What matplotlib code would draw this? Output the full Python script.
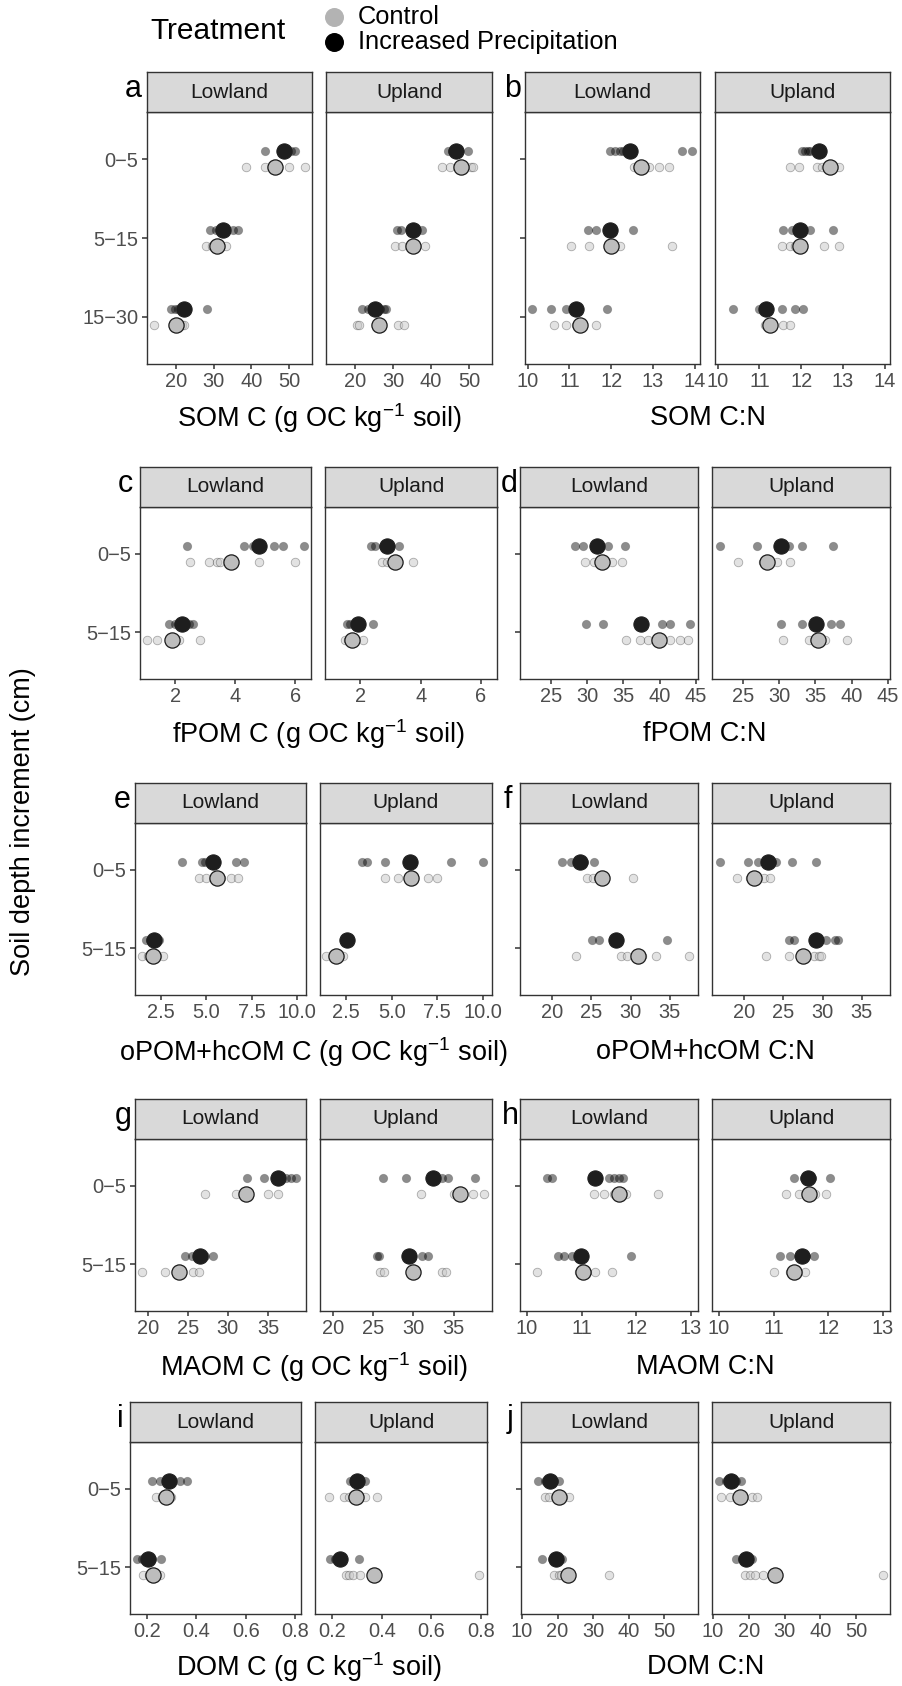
import matplotlib

matplotlib.use("Agg")
import matplotlib.pyplot as plt

plt.rcParams["font.family"] = ["Liberation Sans", "DejaVu Sans"]
plt.rcParams["mathtext.default"] = "regular"

W, H = 902, 1686

depths3 = ["0\u22125", "5\u221215", "15\u221230"]
depths2 = ["0\u22125", "5\u221215"]
sites = ["Lowland", "Upland"]

# --- replicate values (one list per depth) and treatment means -----------
# a: SOM C
som_c_low_ip = [[43.7, 47.8, 48.5, 49.5, 50.5, 51.5], [29.0, 30.5, 31.5, 33.0, 35.0, 36.5], [18.8, 19.8, 20.5, 22.0, 23.0, 28.2]]
som_c_low_ip_mean = [48.7, 32.6, 22.1]
som_c_low_ctl = [[38.6, 43.7, 45.5, 47.0, 49.9, 54.3], [27.9, 29.5, 30.5, 31.5, 33.3], [14.1, 19.5, 20.0, 21.0, 21.5, 22.0]]
som_c_low_ctl_mean = [46.3, 30.8, 19.9]
som_c_up_ip = [[44.6, 45.5, 46.0, 47.0, 49.8], [31.0, 32.0, 34.5, 36.0, 37.5], [21.8, 23.5, 25.0, 26.5, 27.5, 28.2]]
som_c_up_ip_mean = [46.6, 35.3, 25.1]
som_c_up_ctl = [[42.8, 45.0, 47.5, 48.5, 50.5, 51.2], [30.5, 32.3, 35.0, 36.0, 38.4], [20.6, 21.0, 25.5, 26.5, 31.3, 33.0]]
som_c_up_ctl_mean = [47.9, 35.3, 26.4]

# b: SOM C:N
som_cn_low_ip = [[11.96, 12.08, 12.2, 12.28, 13.69, 13.94], [11.44, 11.64, 11.9, 12.05, 12.52], [10.11, 10.57, 10.93, 11.1, 11.91]]
som_cn_low_ip_mean = [12.44, 11.98, 11.15]
som_cn_low_ctl = [[12.55, 12.75, 12.91, 13.13, 13.37], [11.05, 11.47, 11.95, 12.21, 13.44], [10.63, 10.91, 11.15, 11.27, 11.63]]
som_cn_low_ctl_mean = [12.70, 12.00, 11.25]
som_cn_up_ip = [[12.01, 12.09, 12.15, 12.21, 12.45, 12.5], [11.57, 11.77, 11.9, 12.0, 12.21, 12.77], [10.38, 11.0, 11.53, 11.85, 12.04]]
som_cn_up_ip_mean = [12.43, 11.96, 11.16]
som_cn_up_ctl = [[11.73, 11.95, 12.37, 12.49, 12.75, 12.89], [11.53, 11.73, 11.85, 12.0, 12.54, 12.91], [11.14, 11.2, 11.57, 11.73]]
som_cn_up_ctl_mean = [12.69, 11.97, 11.26]

# c: fPOM C
fpom_c_low_ip = [[2.39, 4.31, 4.6, 5.28, 5.61, 6.28], [1.81, 2.0, 2.1, 2.45, 2.61]]
fpom_c_low_ip_mean = [4.78, 2.22]
fpom_c_low_ctl = [[2.48, 3.14, 3.39, 3.5, 4.78, 6.01], [1.07, 1.40, 1.85, 2.0, 2.14, 2.83]]
fpom_c_low_ctl_mean = [3.87, 1.91]
fpom_c_up_ip = [[2.37, 2.48, 2.75, 2.95, 3.29], [1.55, 1.66, 1.85, 2.0, 2.43]]
fpom_c_up_ip_mean = [2.87, 1.93]
fpom_c_up_ctl = [[2.73, 2.89, 3.1, 3.25, 3.75], [1.49, 1.6, 1.75, 2.10]]
fpom_c_up_ctl_mean = [3.15, 1.71]

# d: fPOM C:N
fpom_cn_low_ip = [[28.3, 29.5, 31.0, 31.8, 32.9, 35.2], [29.8, 32.2, 37.3, 40.3, 41.5, 44.2]]
fpom_cn_low_ip_mean = [31.3, 37.5]
fpom_cn_low_ctl = [[29.7, 30.9, 31.8, 32.5, 33.5, 34.8], [35.3, 37.3, 38.4, 39.5, 41.5, 42.8, 43.9]]
fpom_cn_low_ctl_mean = [32.1, 39.9]
fpom_cn_up_ip = [[21.9, 27.0, 30.5, 31.3, 33.2, 37.5], [30.3, 33.2, 35.0, 35.5, 37.2, 38.4]]
fpom_cn_up_ip_mean = [30.2, 35.1]
fpom_cn_up_ctl = [[24.3, 27.8, 28.5, 29.7, 31.5], [30.6, 34.1, 35.0, 36.3, 39.4]]
fpom_cn_up_ctl_mean = [28.3, 35.3]

# e: oPOM+hcOM C
ohc_c_low_ip = [[3.64, 4.75, 4.93, 5.2, 6.65, 7.09], [1.65, 1.9, 2.1, 2.3, 2.4]]
ohc_c_low_ip_mean = [5.39, 2.11]
ohc_c_low_ctl = [[4.6, 4.99, 5.4, 5.8, 6.37, 6.77], [1.43, 1.8, 2.0, 2.3, 2.59]]
ohc_c_low_ctl_mean = [5.58, 2.08]
ohc_c_up_ip = [[3.37, 3.65, 4.65, 6.0, 8.26, 9.99], [2.4, 2.5, 2.6, 2.65]]
ohc_c_up_ip_mean = [6.0, 2.55]
ohc_c_up_ctl = [[4.63, 5.32, 5.9, 6.2, 6.99, 7.5], [1.41, 1.8, 2.0, 2.32]]
ohc_c_up_ctl_mean = [6.05, 1.95]

# f: oPOM+hcOM C:N
ohc_cn_low_ip = [[21.3, 22.4, 23.2, 24.0, 25.3], [25.1, 26.0, 28.5, 34.7]]
ohc_cn_low_ip_mean = [23.6, 28.1]
ohc_cn_low_ctl = [[24.4, 25.2, 25.8, 26.0, 30.3], [23.1, 28.8, 29.6, 31.5, 33.2, 37.5]]
ohc_cn_low_ctl_mean = [26.3, 30.9]
ohc_cn_up_ip = [[16.9, 20.5, 21.8, 23.5, 24.0, 26.1, 29.2], [25.7, 26.4, 29.0, 30.4, 31.6, 32.0]]
ohc_cn_up_ip_mean = [23.1, 29.2]
ohc_cn_up_ctl = [[19.1, 20.8, 21.5, 22.5, 23.3], [22.8, 25.7, 27.3, 28.9, 29.5, 29.8]]
ohc_cn_up_ctl_mean = [21.2, 27.5]

# g: MAOM C
maom_c_low_ip = [[32.4, 34.5, 36.0, 37.3, 37.9, 38.5], [24.7, 25.5, 26.3, 27.2, 28.1]]
maom_c_low_ip_mean = [36.2, 26.5]
maom_c_low_ctl = [[27.1, 31.0, 32.0, 32.5, 35.0, 36.2], [19.3, 22.2, 23.5, 25.7, 26.4]]
maom_c_low_ctl_mean = [32.3, 23.9]
maom_c_up_ip = [[26.2, 29.1, 33.5, 34.3, 37.7], [25.5, 25.7, 29.5, 31.0, 31.8]]
maom_c_up_ip_mean = [32.4, 29.4]
maom_c_up_ctl = [[30.9, 35.0, 36.0, 37.4, 38.8], [25.9, 26.3, 30.0, 33.6, 34.0]]
maom_c_up_ctl_mean = [35.8, 30.0]

# h: MAOM C:N
maom_cn_low_ip = [[10.37, 10.46, 11.5, 11.59, 11.69, 11.76], [10.56, 10.67, 10.83, 10.98, 11.90]]
maom_cn_low_ip_mean = [11.24, 10.98]
maom_cn_low_ctl = [[11.23, 11.40, 11.59, 11.69, 11.82, 12.40], [10.19, 10.95, 11.1, 11.25, 11.55]]
maom_cn_low_ctl_mean = [11.69, 11.03]
maom_cn_up_ip = [[11.38, 11.55, 11.65, 11.7, 12.03], [11.12, 11.30, 11.5, 11.6, 11.73]]
maom_cn_up_ip_mean = [11.63, 11.52]
maom_cn_up_ctl = [[11.23, 11.47, 11.64, 11.75, 11.95], [11.00, 11.3, 11.45, 11.58]]
maom_cn_up_ctl_mean = [11.64, 11.37]

# i: DOM C
dom_c_low_ip = [[0.219, 0.252, 0.28, 0.30, 0.333, 0.360], [0.158, 0.178, 0.20, 0.22, 0.255]]
dom_c_low_ip_mean = [0.289, 0.205]
dom_c_low_ctl = [[0.235, 0.26, 0.28, 0.296], [0.185, 0.21, 0.23, 0.252]]
dom_c_low_ctl_mean = [0.275, 0.223]
dom_c_up_ip = [[0.273, 0.29, 0.31, 0.333], [0.193, 0.21, 0.24, 0.307]]
dom_c_up_ip_mean = [0.300, 0.233]
dom_c_up_ctl = [[0.187, 0.247, 0.267, 0.30, 0.333, 0.38], [0.256, 0.27, 0.284, 0.313, 0.79]]
dom_c_up_ctl_mean = [0.297, 0.367]

# j: DOM C:N
dom_cn_low_ip = [[14.4, 16.5, 18.0, 19.0, 20.3], [15.6, 18.5, 19.5, 20.5, 21.2]]
dom_cn_low_ip_mean = [17.9, 19.5]
dom_cn_low_ctl = [[16.5, 17.5, 20.0, 21.5, 23.1], [18.9, 20.3, 21.0, 22.5, 34.5]]
dom_cn_low_ctl_mean = [20.5, 23.0]
dom_cn_up_ip = [[11.7, 13.5, 15.0, 16.5, 17.8], [16.3, 18.0, 19.5, 20.8]]
dom_cn_up_ip_mean = [15.1, 19.1]
dom_cn_up_ctl = [[12.1, 14.7, 17.0, 21.0, 22.2], [18.9, 20.3, 21.7, 24.0, 57.5]]
dom_cn_up_ctl_mean = [17.5, 27.3]

# --- panel definitions ------------------------------------------------------
# (letter, row, col, depth labels, {site: (ip, ip_mean, ctl, ctl_mean)}, xlim, xticks, ticklabels, xlabel)
PANELS = [
    ("a", 0, 0, depths3,
     {"Lowland": (som_c_low_ip, som_c_low_ip_mean, som_c_low_ctl, som_c_low_ctl_mean),
      "Upland": (som_c_up_ip, som_c_up_ip_mean, som_c_up_ctl, som_c_up_ctl_mean)},
     (12.3, 56.1), [20, 30, 40, 50], None, "SOM C (g OC kg$^{-1}$ soil)"),
    ("b", 0, 1, depths3,
     {"Lowland": (som_cn_low_ip, som_cn_low_ip_mean, som_cn_low_ctl, som_cn_low_ctl_mean),
      "Upland": (som_cn_up_ip, som_cn_up_ip_mean, som_cn_up_ctl, som_cn_up_ctl_mean)},
     (9.94, 14.12), [10, 11, 12, 13, 14], None, "SOM C:N"),
    ("c", 1, 0, depths2,
     {"Lowland": (fpom_c_low_ip, fpom_c_low_ip_mean, fpom_c_low_ctl, fpom_c_low_ctl_mean),
      "Upland": (fpom_c_up_ip, fpom_c_up_ip_mean, fpom_c_up_ctl, fpom_c_up_ctl_mean)},
     (0.83, 6.53), [2, 4, 6], None, "fPOM C (g OC kg$^{-1}$ soil)"),
    ("d", 1, 1, depths2,
     {"Lowland": (fpom_cn_low_ip, fpom_cn_low_ip_mean, fpom_cn_low_ctl, fpom_cn_low_ctl_mean),
      "Upland": (fpom_cn_up_ip, fpom_cn_up_ip_mean, fpom_cn_up_ctl, fpom_cn_up_ctl_mean)},
     (20.74, 45.3), [25, 30, 35, 40, 45], None, "fPOM C:N"),
    ("e", 2, 0, depths2,
     {"Lowland": (ohc_c_low_ip, ohc_c_low_ip_mean, ohc_c_low_ctl, ohc_c_low_ctl_mean),
      "Upland": (ohc_c_up_ip, ohc_c_up_ip_mean, ohc_c_up_ctl, ohc_c_up_ctl_mean)},
     (1.06, 10.5), [2.5, 5.0, 7.5, 10.0], ["2.5", "5.0", "7.5", "10.0"], "oPOM+hcOM C (g OC kg$^{-1}$ soil)"),
    ("f", 2, 1, depths2,
     {"Lowland": (ohc_cn_low_ip, ohc_cn_low_ip_mean, ohc_cn_low_ctl, ohc_cn_low_ctl_mean),
      "Upland": (ohc_cn_up_ip, ohc_cn_up_ip_mean, ohc_cn_up_ctl, ohc_cn_up_ctl_mean)},
     (15.9, 38.6), [20, 25, 30, 35], None, "oPOM+hcOM C:N"),
    ("g", 3, 0, depths2,
     {"Lowland": (maom_c_low_ip, maom_c_low_ip_mean, maom_c_low_ctl, maom_c_low_ctl_mean),
      "Upland": (maom_c_up_ip, maom_c_up_ip_mean, maom_c_up_ctl, maom_c_up_ctl_mean)},
     (18.4, 39.75), [20, 25, 30, 35], None, "MAOM C (g OC kg$^{-1}$ soil)"),
    ("h", 3, 1, depths2,
     {"Lowland": (maom_cn_low_ip, maom_cn_low_ip_mean, maom_cn_low_ctl, maom_cn_low_ctl_mean),
      "Upland": (maom_cn_up_ip, maom_cn_up_ip_mean, maom_cn_up_ctl, maom_cn_up_ctl_mean)},
     (9.87, 13.13), [10, 11, 12, 13], None, "MAOM C:N"),
    ("i", 4, 0, depths2,
     {"Lowland": (dom_c_low_ip, dom_c_low_ip_mean, dom_c_low_ctl, dom_c_low_ctl_mean),
      "Upland": (dom_c_up_ip, dom_c_up_ip_mean, dom_c_up_ctl, dom_c_up_ctl_mean)},
     (0.131, 0.824), [0.2, 0.4, 0.6, 0.8], ["0.2", "0.4", "0.6", "0.8"], "DOM C (g C kg$^{-1}$ soil)"),
    ("j", 4, 1, depths2,
     {"Lowland": (dom_cn_low_ip, dom_cn_low_ip_mean, dom_cn_low_ctl, dom_cn_low_ctl_mean),
      "Upland": (dom_cn_up_ip, dom_cn_up_ip_mean, dom_cn_up_ctl, dom_cn_up_ctl_mean)},
     (9.7, 59.5), [10, 20, 30, 40, 50], None, "DOM C:N"),
]

# pixel layout per row: strip top, panel top, panel bottom, x-title centre y, facet x-extents per column
ROWS = [
    (72, 112, 364, 418, [[(147, 312), (326, 492)], [(525, 700), (715, 890)]]),
    (467, 507, 679, 734, [[(140, 311), (325, 497)], [(520, 698), (712, 890)]]),
    (783, 823, 995, 1052, [[(135, 306), (320, 492)], [(520, 698), (712, 890)]]),
    (1099, 1139, 1311, 1367, [[(135, 306), (320, 492)], [(520, 698), (712, 890)]]),
    (1402, 1442, 1614, 1667, [[(130, 301), (315, 487)], [(521, 698), (712, 890)]]),
]
LETTER_X = [[133, 513], [125, 509], [122, 508], [123, 510], [120, 510]]

DODGE = 0.1
EDGE = "#333333"
small_ip = dict(s=38, facecolor=(0, 0, 0, 0.45), edgecolor=(0, 0, 0, 0.2), linewidth=0.5, zorder=3)
small_ctl = dict(s=38, facecolor=(0.78, 0.78, 0.78, 0.5), edgecolor=(0, 0, 0, 0.3), linewidth=0.6, zorder=3)
mean_ip = dict(s=120, facecolor="#1e1e1e", edgecolor="#1e1e1e", linewidth=0.8, zorder=5)
mean_ctl = dict(s=120, facecolor="#bdbdbd", edgecolor="#1a1a1a", linewidth=0.9, zorder=5)


def px_axes(fig, x0, x1, y0, y1):
    return fig.add_axes([x0 / W, 1 - y1 / H, (x1 - x0) / W, (y1 - y0) / H])


def draw_group(ax, reps, means, offset, small_kw, mean_kw):
    for i, vals in enumerate(reps):
        ax.scatter(vals, [i + offset] * len(vals), **small_kw)
    ax.scatter(means, [i + offset for i in range(len(means))], **mean_kw)


fig = plt.figure(figsize=(W / 100, H / 100), dpi=100)

for letter, row, col, depths, data, xlim, xticks, xticklabels, xlabel in PANELS:
    strip_top, top, bottom, title_y, cols = ROWS[row]
    for k, site in enumerate(sites):
        x0, x1 = cols[col][k]
        ax = px_axes(fig, x0, x1, top, bottom)
        ip, ip_mean, ctl, ctl_mean = data[site]
        draw_group(ax, ip, ip_mean, -DODGE, small_ip, mean_ip)
        draw_group(ax, ctl, ctl_mean, DODGE, small_ctl, mean_ctl)
        ax.set_xlim(*xlim)
        ax.set_ylim(len(depths) - 1 + 0.6, -0.6)
        ax.set_xticks(xticks)
        if xticklabels:
            ax.set_xticklabels(xticklabels)
        ax.set_yticks(range(len(depths)))
        ax.set_yticklabels(depths)
        ax.tick_params(length=3.6, width=1.1, color=EDGE, labelsize=14.4,
                       labelcolor="#4d4d4d", pad=2.5)
        if k == 1:
            ax.tick_params(axis="y", left=False, labelleft=False)
        elif col == 1:
            ax.tick_params(axis="y", labelleft=False)
        for sp in ax.spines.values():
            sp.set_color(EDGE)
            sp.set_linewidth(1.0)

        sax = px_axes(fig, x0, x1, strip_top, top)
        sax.set_facecolor("#d9d9d9")
        sax.set_xticks([])
        sax.set_yticks([])
        for sp in sax.spines.values():
            sp.set_color(EDGE)
            sp.set_linewidth(1.0)
        sax.text(0.5, 0.5, site, ha="center", va="center", fontsize=15,
                 color="#1a1a1a", transform=sax.transAxes)

    xc = (cols[col][0][0] + cols[col][1][1]) / 2
    fig.text(xc / W, 1 - title_y / H, xlabel, ha="center", va="center", fontsize=19.5)
    fig.text(LETTER_X[row][col] / W, 1 - (strip_top + 25) / H, letter,
             ha="center", va="baseline", fontsize=22)

fig.text(23 / W, 1 - 822 / H, "Soil depth increment (cm)", rotation=90,
         ha="center", va="center", fontsize=19.5)

# legend
lax = fig.add_axes([0, 0, 1, 1])
lax.set_xlim(0, W)
lax.set_ylim(H, 0)
lax.axis("off")
lax.text(150, 31, "Treatment", ha="left", va="center", fontsize=21.5)
lax.scatter([334], [17], s=160, color="#b3b3b3")
lax.scatter([334], [42], s=160, color="#000000")
lax.text(358, 17, "Control", ha="left", va="center", fontsize=18.3)
lax.text(358, 42, "Increased Precipitation", ha="left", va="center", fontsize=18.3)

fig.savefig("out.png", dpi=100)
